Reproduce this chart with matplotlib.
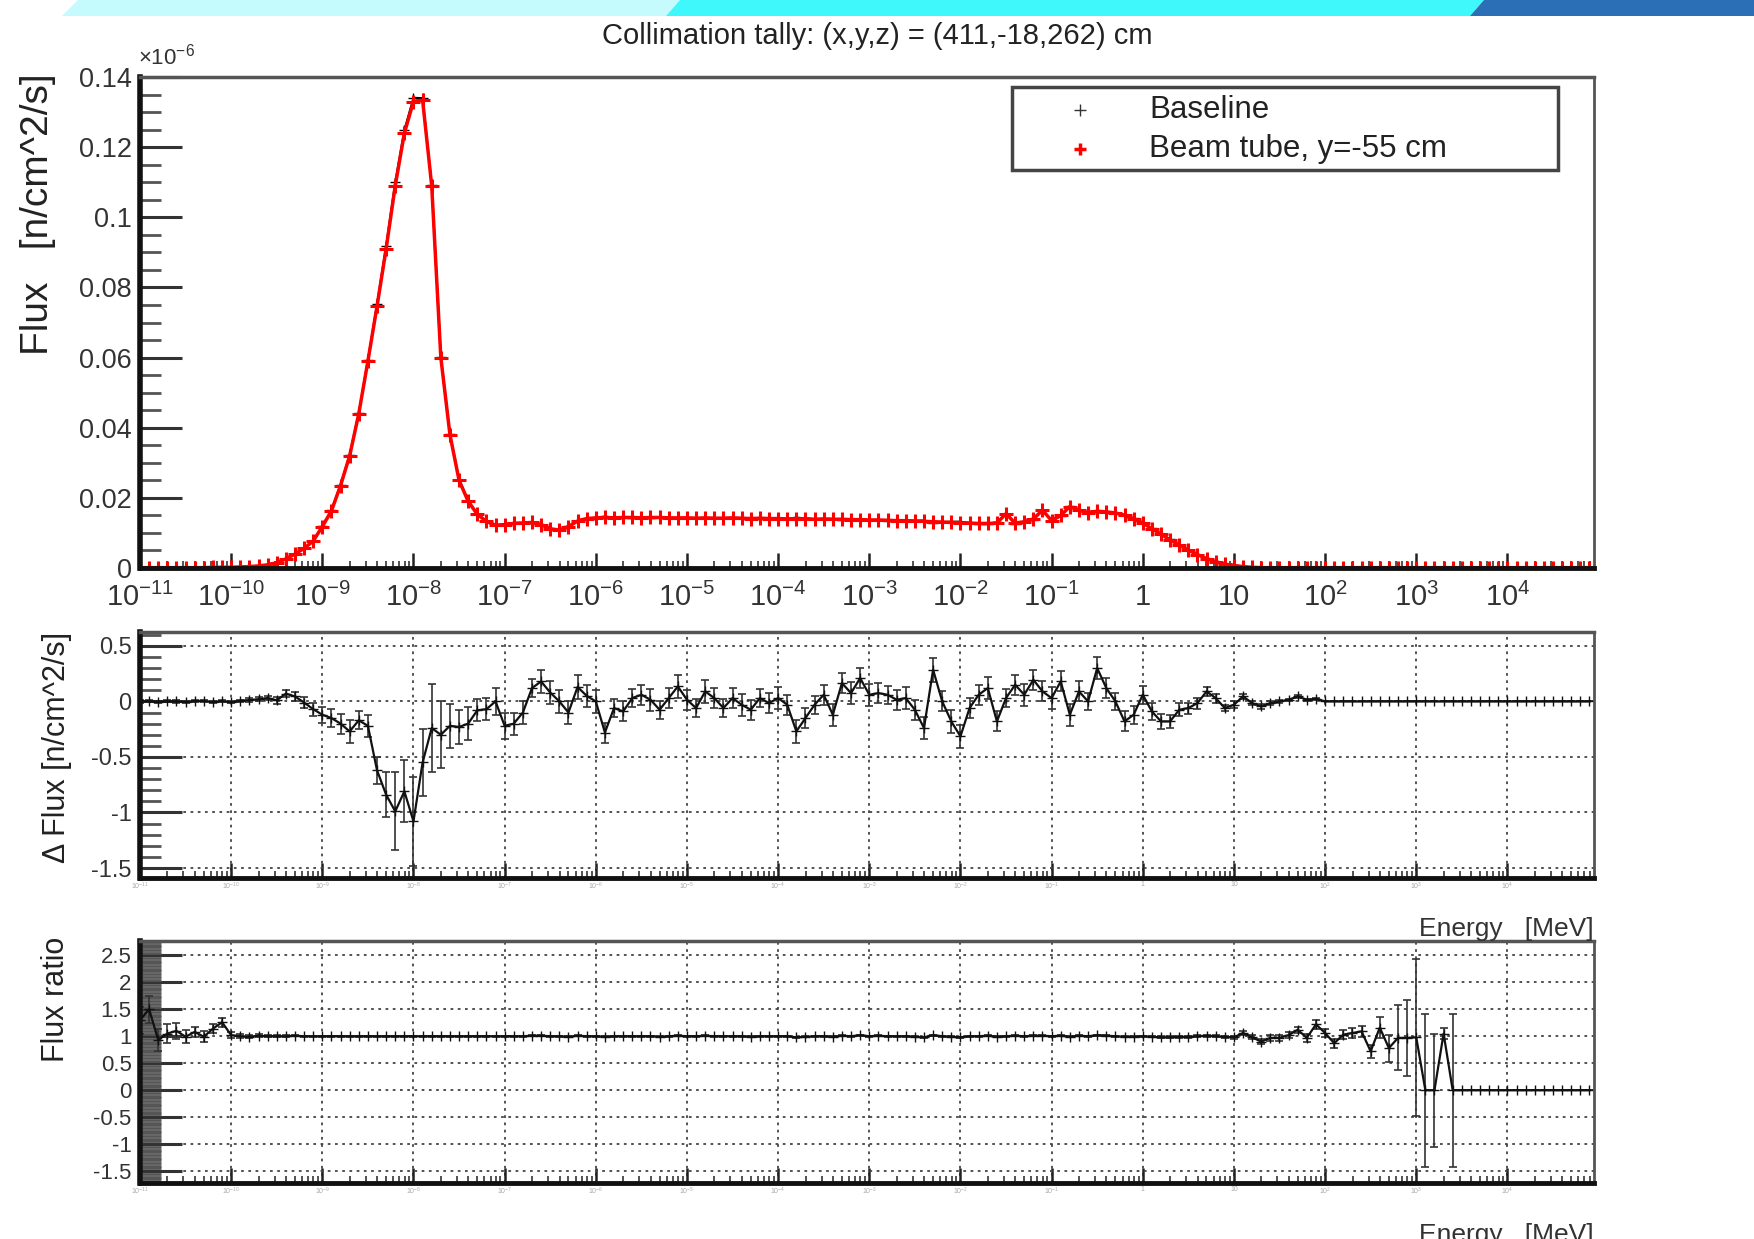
import numpy as np
import matplotlib
matplotlib.use('Agg')
import matplotlib.pyplot as plt
from matplotlib.patches import Polygon, Rectangle
from matplotlib.lines import Line2D
from matplotlib.ticker import FixedLocator, FuncFormatter, MultipleLocator, NullFormatter

plt.rcParams['font.family'] = ['Liberation Sans', 'DejaVu Sans']
plt.rcParams['mathtext.fontset'] = 'custom'
plt.rcParams['mathtext.rm'] = 'Liberation Sans'
plt.rcParams['mathtext.it'] = 'Liberation Sans:italic'
plt.rcParams['mathtext.bf'] = 'Liberation Sans:bold'

# energy bins, 10 per decade from 1e-11 MeV
energy = np.logspace(-11, 4.9, 160)

# flux of the beam tube case, units of 1e-6 n/cm^2/s
flux_beam = [
    0.0001, 0.0001, 0.0001, 0.0001, 0.0001, 0.0001, 0.0001, 0.0001, 0.0002, 0.0002,
    0.0002, 0.0003, 0.0004, 0.0006, 0.0009, 0.0015, 0.0026, 0.0040, 0.0056, 0.0077,
    0.0118, 0.0163, 0.0235, 0.0320, 0.0440, 0.0590, 0.0746, 0.0910, 0.1090, 0.1240,
    0.1330, 0.1334, 0.1090, 0.0600, 0.0380, 0.0250, 0.0190, 0.0153, 0.0133, 0.0122,
    0.0123, 0.0127, 0.0128, 0.0130, 0.0124, 0.0112, 0.0108, 0.0118, 0.0134, 0.0141,
    0.0143, 0.0144, 0.0143, 0.0144, 0.0144, 0.0143, 0.0144, 0.0144, 0.0143, 0.0143,
    0.0143, 0.0142, 0.0143, 0.0142, 0.0142, 0.0143, 0.0142, 0.0141, 0.0142, 0.0141,
    0.0141, 0.0140, 0.0141, 0.0140, 0.0139, 0.0140, 0.0139, 0.0139, 0.0138, 0.0138,
    0.0137, 0.0137, 0.0136, 0.0135, 0.0135, 0.0134, 0.0133, 0.0132, 0.0131, 0.0130,
    0.0129, 0.0128, 0.0127, 0.0127, 0.0128, 0.0155, 0.0128, 0.0132, 0.0140, 0.0165,
    0.0135, 0.0150, 0.0175, 0.0165, 0.0158, 0.0162, 0.0160, 0.0157, 0.0150, 0.0140,
    0.0128, 0.0112, 0.0096, 0.0080, 0.0065, 0.0051, 0.0038, 0.0027, 0.0018, 0.0011,
    0.0007, 0.0004, 0.0002, 0.0001, 0.0001, 0.0001, 0.0001, 0.0001, 0.0001, 0.0001,
    0.0001, 0.0001, 0.0001, 0.0001, 0.0001, 0.0001, 0.0001, 0.0001, 0.0001, 0.0001,
    0.0001, 0.0001, 0.0001, 0.0001, 0.0001, 0.0001, 0.0001, 0.0001, 0.0001, 0.0001,
    0.0001, 0.0001, 0.0001, 0.0001, 0.0001, 0.0001, 0.0001, 0.0001, 0.0001, 0.0001,
]

# beam tube minus baseline (units of 1e-9)
delta_flux = [
    0.000, 0.002, -0.003, 0.001, 0.000, -0.004, 0.003, 0.005, -0.006, 0.004,
    -0.008, 0.006, 0.012, 0.020, 0.030, 0.010, 0.070, 0.045, -0.010, -0.070,
    -0.12, -0.15, -0.20, -0.27, -0.17, -0.22, -0.62, -0.84, -0.99, -0.81,
    -1.08, -0.55, -0.24, -0.30, -0.22, -0.23, -0.20, -0.08, -0.07, 0.00,
    -0.22, -0.20, -0.10, 0.12, 0.18, 0.08, 0.00, -0.10, 0.13, 0.05,
    0.00, -0.28, -0.06, -0.09, 0.03, 0.06, 0.015, -0.075, 0.03, 0.135,
    0.015, -0.06, 0.09, 0.03, -0.06, 0.03, -0.03, -0.075, 0.03, -0.015,
    0.03, -0.03, -0.27, -0.15, -0.03, 0.06, -0.12, 0.165, 0.075, 0.21,
    0.06, 0.075, 0.06, 0.015, 0.03, -0.075, -0.24, 0.285, 0.00, -0.18,
    -0.315, -0.06, 0.06, 0.12, -0.18, 0.03, 0.15, 0.06, 0.195, 0.09,
    0.03, 0.18, -0.12, 0.09, 0.00, 0.30, 0.12, 0.00, -0.18, -0.12,
    0.06, -0.09, -0.18, -0.18, -0.075, -0.06, -0.015, 0.09, 0.03, -0.06,
    -0.03, 0.045, -0.015, -0.045, -0.015, 0.00, 0.015, 0.045, 0.015, 0.024,
    0, 0, 0, 0, 0, 0, 0, 0, 0, 0,
    0, 0, 0, 0, 0, 0, 0, 0, 0, 0,
    0, 0, 0, 0, 0, 0, 0, 0, 0, 0,
]
delta_err = [
    0.01, 0.01, 0.01, 0.01, 0.01, 0.01, 0.01, 0.01, 0.01, 0.01,
    0.01, 0.01, 0.015, 0.02, 0.02, 0.03, 0.03, 0.04, 0.05, 0.06,
    0.07, 0.08, 0.09, 0.10, 0.08, 0.10, 0.12, 0.20, 0.35, 0.28,
    0.40, 0.30, 0.40, 0.30, 0.20, 0.15, 0.15, 0.10, 0.10, 0.12,
    0.12, 0.10, 0.10, 0.08, 0.10, 0.10, 0.10, 0.10, 0.11, 0.10,
    0.10, 0.09, 0.08, 0.09, 0.08, 0.09, 0.10, 0.08, 0.09, 0.10,
    0.09, 0.08, 0.10, 0.09, 0.08, 0.09, 0.10, 0.09, 0.08, 0.09,
    0.10, 0.09, 0.10, 0.09, 0.08, 0.09, 0.10, 0.09, 0.10, 0.09,
    0.10, 0.09, 0.08, 0.09, 0.10, 0.09, 0.10, 0.11, 0.09, 0.10,
    0.10, 0.09, 0.09, 0.10, 0.09, 0.08, 0.09, 0.10, 0.09, 0.09,
    0.10, 0.09, 0.10, 0.09, 0.08, 0.10, 0.09, 0.08, 0.09, 0.08,
    0.08, 0.08, 0.07, 0.06, 0.06, 0.05, 0.05, 0.04, 0.04, 0.03,
    0.03, 0.02, 0.02, 0.02, 0.015, 0.015, 0.01, 0.01, 0.01, 0.01,
    0, 0, 0, 0, 0, 0, 0, 0, 0, 0,
    0, 0, 0, 0, 0, 0, 0, 0, 0, 0,
    0, 0, 0, 0, 0, 0, 0, 0, 0, 0,
]

# beam tube / baseline
flux_ratio = [
    1.30, 1.50, 0.93, 1.05, 1.10, 0.99, 1.08, 0.99, 1.14, 1.26,
    1.02, 1.00, 0.99, 1.01, 1.00, 1.00, 1.00, 1.01, 1.00, 1.00,
    1.00, 1.00, 1.00, 1.00, 1.00, 1.00, 1.00, 1.00, 1.00, 1.00,
    1.00, 1.00, 1.00, 1.00, 1.00, 1.00, 1.00, 1.00, 1.00, 1.00,
    1.00, 1.00, 1.00, 1.01, 1.01, 1.00, 1.00, 0.99, 1.01, 1.00,
    1.00, 0.99, 1.00, 1.00, 1.00, 1.00, 1.00, 0.99, 1.00, 1.01,
    1.00, 1.00, 1.01, 1.00, 1.00, 1.00, 1.00, 0.99, 1.00, 1.00,
    1.00, 1.00, 0.98, 0.99, 1.00, 1.00, 0.99, 1.01, 1.00, 1.02,
    1.00, 1.01, 1.00, 1.00, 1.00, 0.99, 0.98, 1.02, 1.00, 0.99,
    0.98, 1.00, 1.00, 1.01, 0.99, 1.00, 1.01, 1.00, 1.01, 1.01,
    1.00, 1.01, 0.99, 1.01, 1.00, 1.02, 1.01, 1.00, 0.99, 0.99,
    1.00, 0.99, 0.98, 0.98, 0.99, 0.99, 1.00, 1.01, 1.00, 0.99,
    0.98, 1.06, 0.98, 0.90, 0.97, 0.97, 1.02, 1.12, 0.97, 1.22,
    1.06, 0.87, 1.03, 1.06, 1.09, 0.72, 1.16, 0.78, 0.97, 0.97,
    0.98, 0.00, 0.00, 1.05, 0.00, 0, 0, 0, 0, 0,
    0, 0, 0, 0, 0, 0, 0, 0, 0, 0,
]
ratio_err = [
    0.25, 0.25, 0.20, 0.18, 0.15, 0.12, 0.10, 0.10, 0.08, 0.08,
    0.05, 0.04, 0.03, 0.03, 0.02, 0.02, 0.02, 0.01, 0.01, 0.01,
] + [0.01] * 90 + [
    0.01, 0.01, 0.02, 0.02, 0.02, 0.02, 0.02, 0.02, 0.02, 0.02,
    0.03, 0.03, 0.04, 0.04, 0.05, 0.05, 0.06, 0.06, 0.07, 0.08,
    0.08, 0.08, 0.09, 0.10, 0.10, 0.12, 0.20, 0.25, 0.60, 0.70,
    1.45, 1.42, 1.05, 0.10, 1.42, 0, 0, 0, 0, 0,
    0, 0, 0, 0, 0, 0, 0, 0, 0, 0,
]

flux_base = np.array(flux_beam) - np.array(delta_flux) * 1e-3

W, H = 1754, 1239
fig = plt.figure(figsize=(W / 100, H / 100), dpi=100)


def fx(x):
    return x / W


def fy(y):
    return 1 - y / H


# banner at the top of the slide
for pts, col in [([(62, 16), (78, 0), (680, 0), (666, 16)], '#c6fbfd'),
                 ([(666, 16), (680, 0), (1484, 0), (1470, 16)], '#3ff8fc'),
                 ([(1470, 16), (1484, 0), (1754, 0), (1754, 16)], '#2b6fb6')]:
    fig.patches.append(Polygon([(fx(a), fy(b)) for a, b in pts], closed=True,
                               transform=fig.transFigure, color=col, lw=0))

left, width = fx(140), fx(1594) - fx(140)
ax1 = fig.add_axes([left, fy(568), width, fy(77) - fy(568)])
ax2 = fig.add_axes([left, fy(878), width, fy(632) - fy(878)])
ax3 = fig.add_axes([left, fy(1183), width, fy(941) - fy(1183)])

xmin, xmax = 1e-11, 10 ** 4.95
decades = [10.0 ** p for p in range(-11, 5)]


def elabel(v, pos):
    p = int(round(np.log10(v)))
    if p == 0:
        return '1'
    if p == 1:
        return '10'
    return r'$\mathregular{10^{%d}}$' % p


for ax in (ax1, ax2, ax3):
    ax.set_xscale('log')
    ax.set_xlim(xmin, xmax)
    ax.xaxis.set_major_locator(FixedLocator(decades))
    ax.xaxis.set_minor_locator(FixedLocator([d * m for d in decades for m in range(2, 10)]))
    ax.xaxis.set_major_formatter(FuncFormatter(elabel))
    ax.xaxis.set_minor_formatter(NullFormatter())
    ax.spines['left'].set_linewidth(4)
    ax.spines['bottom'].set_linewidth(3.5)
    ax.spines['left'].set_color('#111')
    ax.spines['bottom'].set_color('#111')
    ax.spines['top'].set_linewidth(2.5)
    ax.spines['top'].set_color('#555')
    ax.spines['right'].set_linewidth(2)
    ax.spines['right'].set_color('#555')
    ax.tick_params(axis='y', which='major', direction='in', length=30, width=2.2, color='#333',
                   labelcolor='#333', pad=6)
    ax.tick_params(axis='y', which='minor', direction='in', length=15, width=2, color='#555')
    ax.tick_params(axis='x', which='major', direction='in', length=11, width=1.8, color='#222')
    ax.tick_params(axis='x', which='minor', direction='in', length=5, width=1.3, color='#444')

# top panel: flux
ax1.plot(energy, flux_base, color='black', marker='+', ms=7, lw=1.5, label='Baseline')
ax1.plot(energy, flux_beam, color='red', marker='+', ms=10, mew=2.2, lw=2.5,
         label='Beam tube, y=-55 cm')
ax1.set_ylim(0, 0.14)
ax1.yaxis.set_major_locator(MultipleLocator(0.02))
ax1.yaxis.set_minor_locator(MultipleLocator(0.005))
ax1.yaxis.set_major_formatter(FuncFormatter(lambda v, p: '%g' % round(v, 3)))
ax1.tick_params(axis='y', labelsize=19.5)
ax1.tick_params(axis='x', labelsize=21, pad=11, labelcolor='#333')

# middle panel: difference
ax2.errorbar(energy, delta_flux, yerr=delta_err, fmt='-', marker='+', color='#111',
             ecolor='#333', ms=7, lw=1.6, elinewidth=1.2, capsize=3, capthick=1.2)
ax2.set_ylim(-1.59, 0.625)
ax2.yaxis.set_major_locator(MultipleLocator(0.5))
ax2.yaxis.set_minor_locator(MultipleLocator(0.1))
ax2.yaxis.set_major_formatter(FuncFormatter(lambda v, p: '%g' % v))
ax2.tick_params(axis='y', labelsize=17)

# bottom panel: ratio
ax3.errorbar(energy, flux_ratio, yerr=ratio_err, fmt='-', marker='+', color='#111',
             ecolor='#333', ms=7, lw=1.6, elinewidth=1.2, capsize=3, capthick=1.2)
ax3.set_ylim(-1.72, 2.765)
ax3.yaxis.set_major_locator(MultipleLocator(0.5))
ax3.yaxis.set_minor_locator(MultipleLocator(0.05))
ax3.yaxis.set_major_formatter(FuncFormatter(lambda v, p: '%g' % v))
ax3.tick_params(axis='y', labelsize=16)

for ax in (ax2, ax3):
    ax.grid(True, which='major', linestyle=(0, (1.5, 2.5)), color='#444', lw=1.3)
    ax.tick_params(axis='x', labelsize=5, labelcolor='#aaa', pad=2)
    ax.set_axisbelow(True)

# texts
fig.text(0.5, fy(36), 'Collimation tally: (x,y,z) = (411,-18,262) cm', ha='center',
         va='center', fontsize=21, color='#222')
fig.text(fx(138), fy(70), r'$\mathregular{\times10^{-6}}$', ha='left', va='bottom',
         fontsize=16, color='#333')
fig.text(fx(38), fy(73), 'Flux   [n/cm^2/s]', rotation=90, ha='center', va='top',
         fontsize=28, color='#222')
fig.text(fx(57), fy(632), '\u0394 Flux [n/cm^2/s]', rotation=90, ha='center', va='top',
         fontsize=22, color='#222')
fig.text(fx(56), fy(937), 'Flux ratio', rotation=90, ha='center', va='top',
         fontsize=22, color='#222')
fig.text(fx(1594), fy(917), 'Energy   [MeV]', ha='right', va='top', fontsize=19, color='#333')
fig.text(fx(1594), fy(1223), 'Energy   [MeV]', ha='right', va='top', fontsize=19, color='#333')

# legend box
fig.patches.append(Rectangle((fx(1012), fy(170)), fx(1558) - fx(1012), fy(87) - fy(170),
                             transform=fig.transFigure, facecolor='white', edgecolor='#444',
                             lw=2.5))
fig.lines.append(Line2D([fx(1080)], [fy(110)], marker='+', color='#333', ms=8,
                        transform=fig.transFigure))
fig.lines.append(Line2D([fx(1080)], [fy(149)], marker='+', color='red', ms=8, mew=2.5,
                        transform=fig.transFigure))
fig.text(fx(1149), fy(110), 'Baseline', ha='left', va='center', fontsize=22.5, color='#222')
fig.text(fx(1149), fy(149), 'Beam tube, y=-55 cm', ha='left', va='center', fontsize=22.5,
         color='#222')

fig.savefig('out.png', dpi=100)
